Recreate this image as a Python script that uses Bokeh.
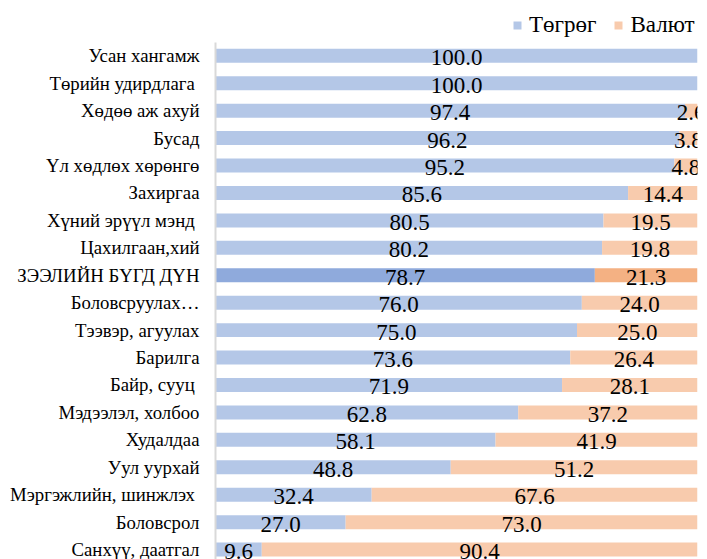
from bokeh.plotting import figure
from bokeh.models import ColumnDataSource, Range1d, FixedTicker, Legend, LegendItem
from bokeh.core.properties import value
from bokeh.embed import file_html
from bokeh.resources import INLINE

categories = ["Усан хангамж", "Төрийн удирдлага ", "Хөдөө аж ахуй", "Бусад",
              "Үл хөдлөх хөрөнгө", "Захиргаа", "Хүний эрүүл мэнд ", "Цахилгаан,хий",
              "ЗЭЭЛИЙН БҮГД ДҮН", "Боловсруулах…", "Тээвэр, агуулах", "Барилга",
              "Байр, сууц ", "Мэдээлэл, холбоо", "Худалдаа", "Уул уурхай",
              "Мэргэжлийн, шинжлэх ", "Боловсрол", "Санхүү, даатгал"]
togrog = [100.0, 100.0, 97.4, 96.2, 95.2, 85.6, 80.5, 80.2, 78.7, 76.0, 75.0, 73.6,
          71.9, 62.8, 58.1, 48.8, 32.4, 27.0, 9.6]
valyut = [0.0, 0.0, 2.6, 3.8, 4.8, 14.4, 19.5, 19.8, 21.3, 24.0, 25.0, 26.4,
          28.1, 37.2, 41.9, 51.2, 67.6, 73.0, 90.4]
highlight = "ЗЭЭЛИЙН БҮГД ДҮН"

FONT = "'Liberation Serif'"
n = len(categories)
ys = [n - 1 - i for i in range(n)]
c_tg = ["#8faadc" if c == highlight else "#b4c7e7" for c in categories]
c_vl = ["#f4b183" if c == highlight else "#f8cbad" for c in categories]

src = ColumnDataSource(dict(
    y=ys, tg=togrog, vl=valyut,
    tot=[a + b for a, b in zip(togrog, valyut)],
    c1=c_tg, c2=c_vl,
    tgx=[a / 2 for a in togrog],
    vlx=[a + b / 2 for a, b in zip(togrog, valyut)],
    tgl=["%.1f" % v for v in togrog],
    vll=["%.1f" % v if v > 0 else "" for v in valyut],
))

y_lo, y_band_top, y_hi = -0.362, n - 0.5, n - 0.5 + 1.517
p = figure(width=707, height=559, output_backend="svg", toolbar_location=None,
           x_range=Range1d(0, 100), y_range=Range1d(y_lo, y_hi),
           min_border_left=215, min_border_right=10, min_border_top=0,
           min_border_bottom=0, x_axis_location=None)
p.outline_line_color = None
p.grid.visible = False

r1 = p.hbar(y="y", left=0, right="tg", height=0.51, fill_color="c1",
            line_color=None, source=src)
r2 = p.hbar(y="y", left="tg", right="tot", height=0.51, fill_color="c2",
            line_color=None, source=src)

for xs, ts in (("tgx", "tgl"), ("vlx", "vll")):
    p.text(x=xs, y="y", text=ts, source=src, text_font=value(FONT),
           text_font_size="23px", text_align="center", text_baseline="middle",
           text_color="#000000", y_offset=2)

ax = p.yaxis[0]
ax.ticker = FixedTicker(ticks=ys)
ax.bounds = (y_lo, y_band_top)
ax.major_label_overrides = {y: c for y, c in zip(ys, categories)}
ax.major_label_text_font = FONT
ax.major_label_text_font_size = "18.8px"
ax.major_label_text_color = "#000000"
ax.major_label_standoff = 16
ax.major_tick_out = 0
ax.major_tick_in = 0
ax.major_tick_line_color = None
ax.minor_tick_line_color = None
ax.axis_line_color = "#d9d9d9"
ax.axis_line_width = 2

legend = Legend(items=[LegendItem(label="Төгрөг", renderers=[r1], index=0),
                       LegendItem(label="Валют", renderers=[r2], index=2)],
                orientation="horizontal", location=(297, 521),
                glyph_width=10, glyph_height=10, label_standoff=7, spacing=17,
                padding=0, margin=0, border_line_color=None,
                background_fill_alpha=0, label_text_font=FONT,
                label_text_font_size="23px", label_text_color="#000000")
p.add_layout(legend, "center")

open("out.html", "w").write(file_html(p, INLINE))
